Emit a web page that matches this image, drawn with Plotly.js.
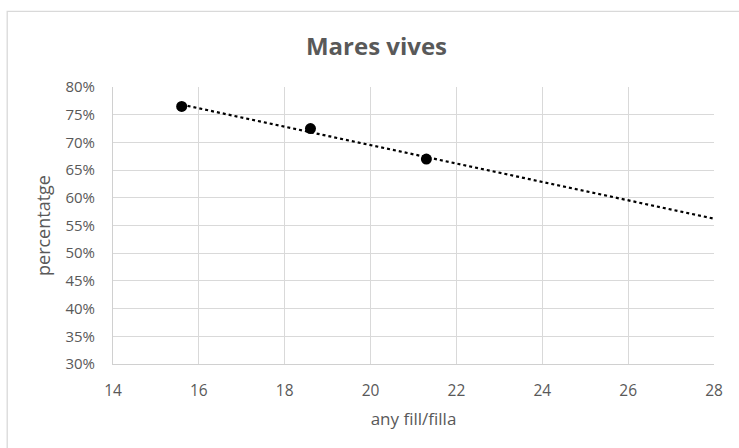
<!DOCTYPE html>
<html>
<head>
<meta charset="utf-8">
<script src="https://cdn.plot.ly/plotly-3.0.1.min.js"></script>
<style>
  html, body { margin: 0; padding: 0; background: #ffffff; }
  #chart { width: 739px; height: 448px; }
</style>
</head>
<body>
<div id="chart"></div>
<script>
// Data
const chartTitle = 'Mares vives';
const xTitle = 'any fill/filla';
const yTitle = 'percentatge';
const years = [15.6, 18.6, 21.3];
const percentages = [0.765, 0.725, 0.67];
const trendEnd = 28;
const xTickVals = [14, 16, 18, 20, 22, 24, 26, 28];
const yTickVals = [0.30, 0.35, 0.40, 0.45, 0.50, 0.55, 0.60, 0.65, 0.70, 0.75, 0.80];

// Linear least-squares trendline (as Excel's linear trendline)
const n = years.length;
const mx = years.reduce((a, b) => a + b, 0) / n;
const my = percentages.reduce((a, b) => a + b, 0) / n;
let sxy = 0, sxx = 0;
for (let i = 0; i < n; i++) {
  sxy += (years[i] - mx) * (percentages[i] - my);
  sxx += (years[i] - mx) * (years[i] - mx);
}
const slope = sxy / sxx;
const intercept = my - slope * mx;
const trendX = [Math.min(...years), trendEnd];
const trendY = trendX.map(x => intercept + slope * x);

const FONT = 'Open Sans, sans-serif';
const GRAY = '#595959';

const data = [
  {
    x: trendX, y: trendY, type: 'scatter', mode: 'lines',
    line: { color: '#000000', width: 2.2, dash: 'dot' },
    hoverinfo: 'skip', showlegend: false
  },
  {
    x: years, y: percentages, type: 'scatter', mode: 'markers',
    marker: { color: '#000000', size: 11, line: { width: 0 } },
    showlegend: false
  }
];

const W = 739, H = 448;
const L = 113.3, R = 24.7, T = 86.7, B = 84;
const pw = W - L - R, ph = H - T - B;
const px = v => (v - L) / pw;
const py = v => (H - B - v) / ph;

const layout = {
  width: W, height: H,
  margin: { l: L, r: R, t: T, b: B, pad: 0 },
  paper_bgcolor: '#ffffff', plot_bgcolor: '#ffffff',
  font: { family: FONT, color: GRAY, size: 12 },
  title: {
    text: '<b>' + chartTitle + '</b>',
    font: { family: FONT, size: 24, color: GRAY },
    x: 376.5 / W, xref: 'container', xanchor: 'center',
    y: 1 - 47 / H, yref: 'container', yanchor: 'middle'
  },
  xaxis: {
    range: [14, 28], tickvals: xTickVals, ticktext: xTickVals.map(String),
    showgrid: true, gridcolor: '#d9d9d9', gridwidth: 1,
    zeroline: false, showline: true, linecolor: '#d0d0d0', linewidth: 1,
    ticks: '', ticklabelstandoff: 12,
    tickfont: { family: FONT, size: 15.5, color: GRAY },
    title: { text: xTitle, font: { family: FONT, size: 17, color: GRAY }, standoff: 13 }
  },
  yaxis: {
    range: [0.30, 0.80], tickvals: yTickVals, tickformat: '.0%',
    showgrid: true, gridcolor: '#d9d9d9', gridwidth: 1,
    zeroline: false, showline: true, linecolor: '#d0d0d0', linewidth: 1,
    ticks: '', ticklabelstandoff: 14,
    tickfont: { family: FONT, size: 15, color: GRAY },
    title: { text: yTitle, font: { family: FONT, size: 18, color: GRAY }, standoff: 10 }
  },
  shapes: [{
    type: 'rect', xref: 'paper', yref: 'paper',
    x0: px(7.5), x1: px(760), y0: py(470), y1: py(11),
    line: { color: '#d9d9d9', width: 1.3 }, fillcolor: 'rgba(0,0,0,0)', layer: 'below'
  }]
};

Plotly.newPlot('chart', data, layout, { displayModeBar: false, staticPlot: true });
</script>
</body>
</html>
